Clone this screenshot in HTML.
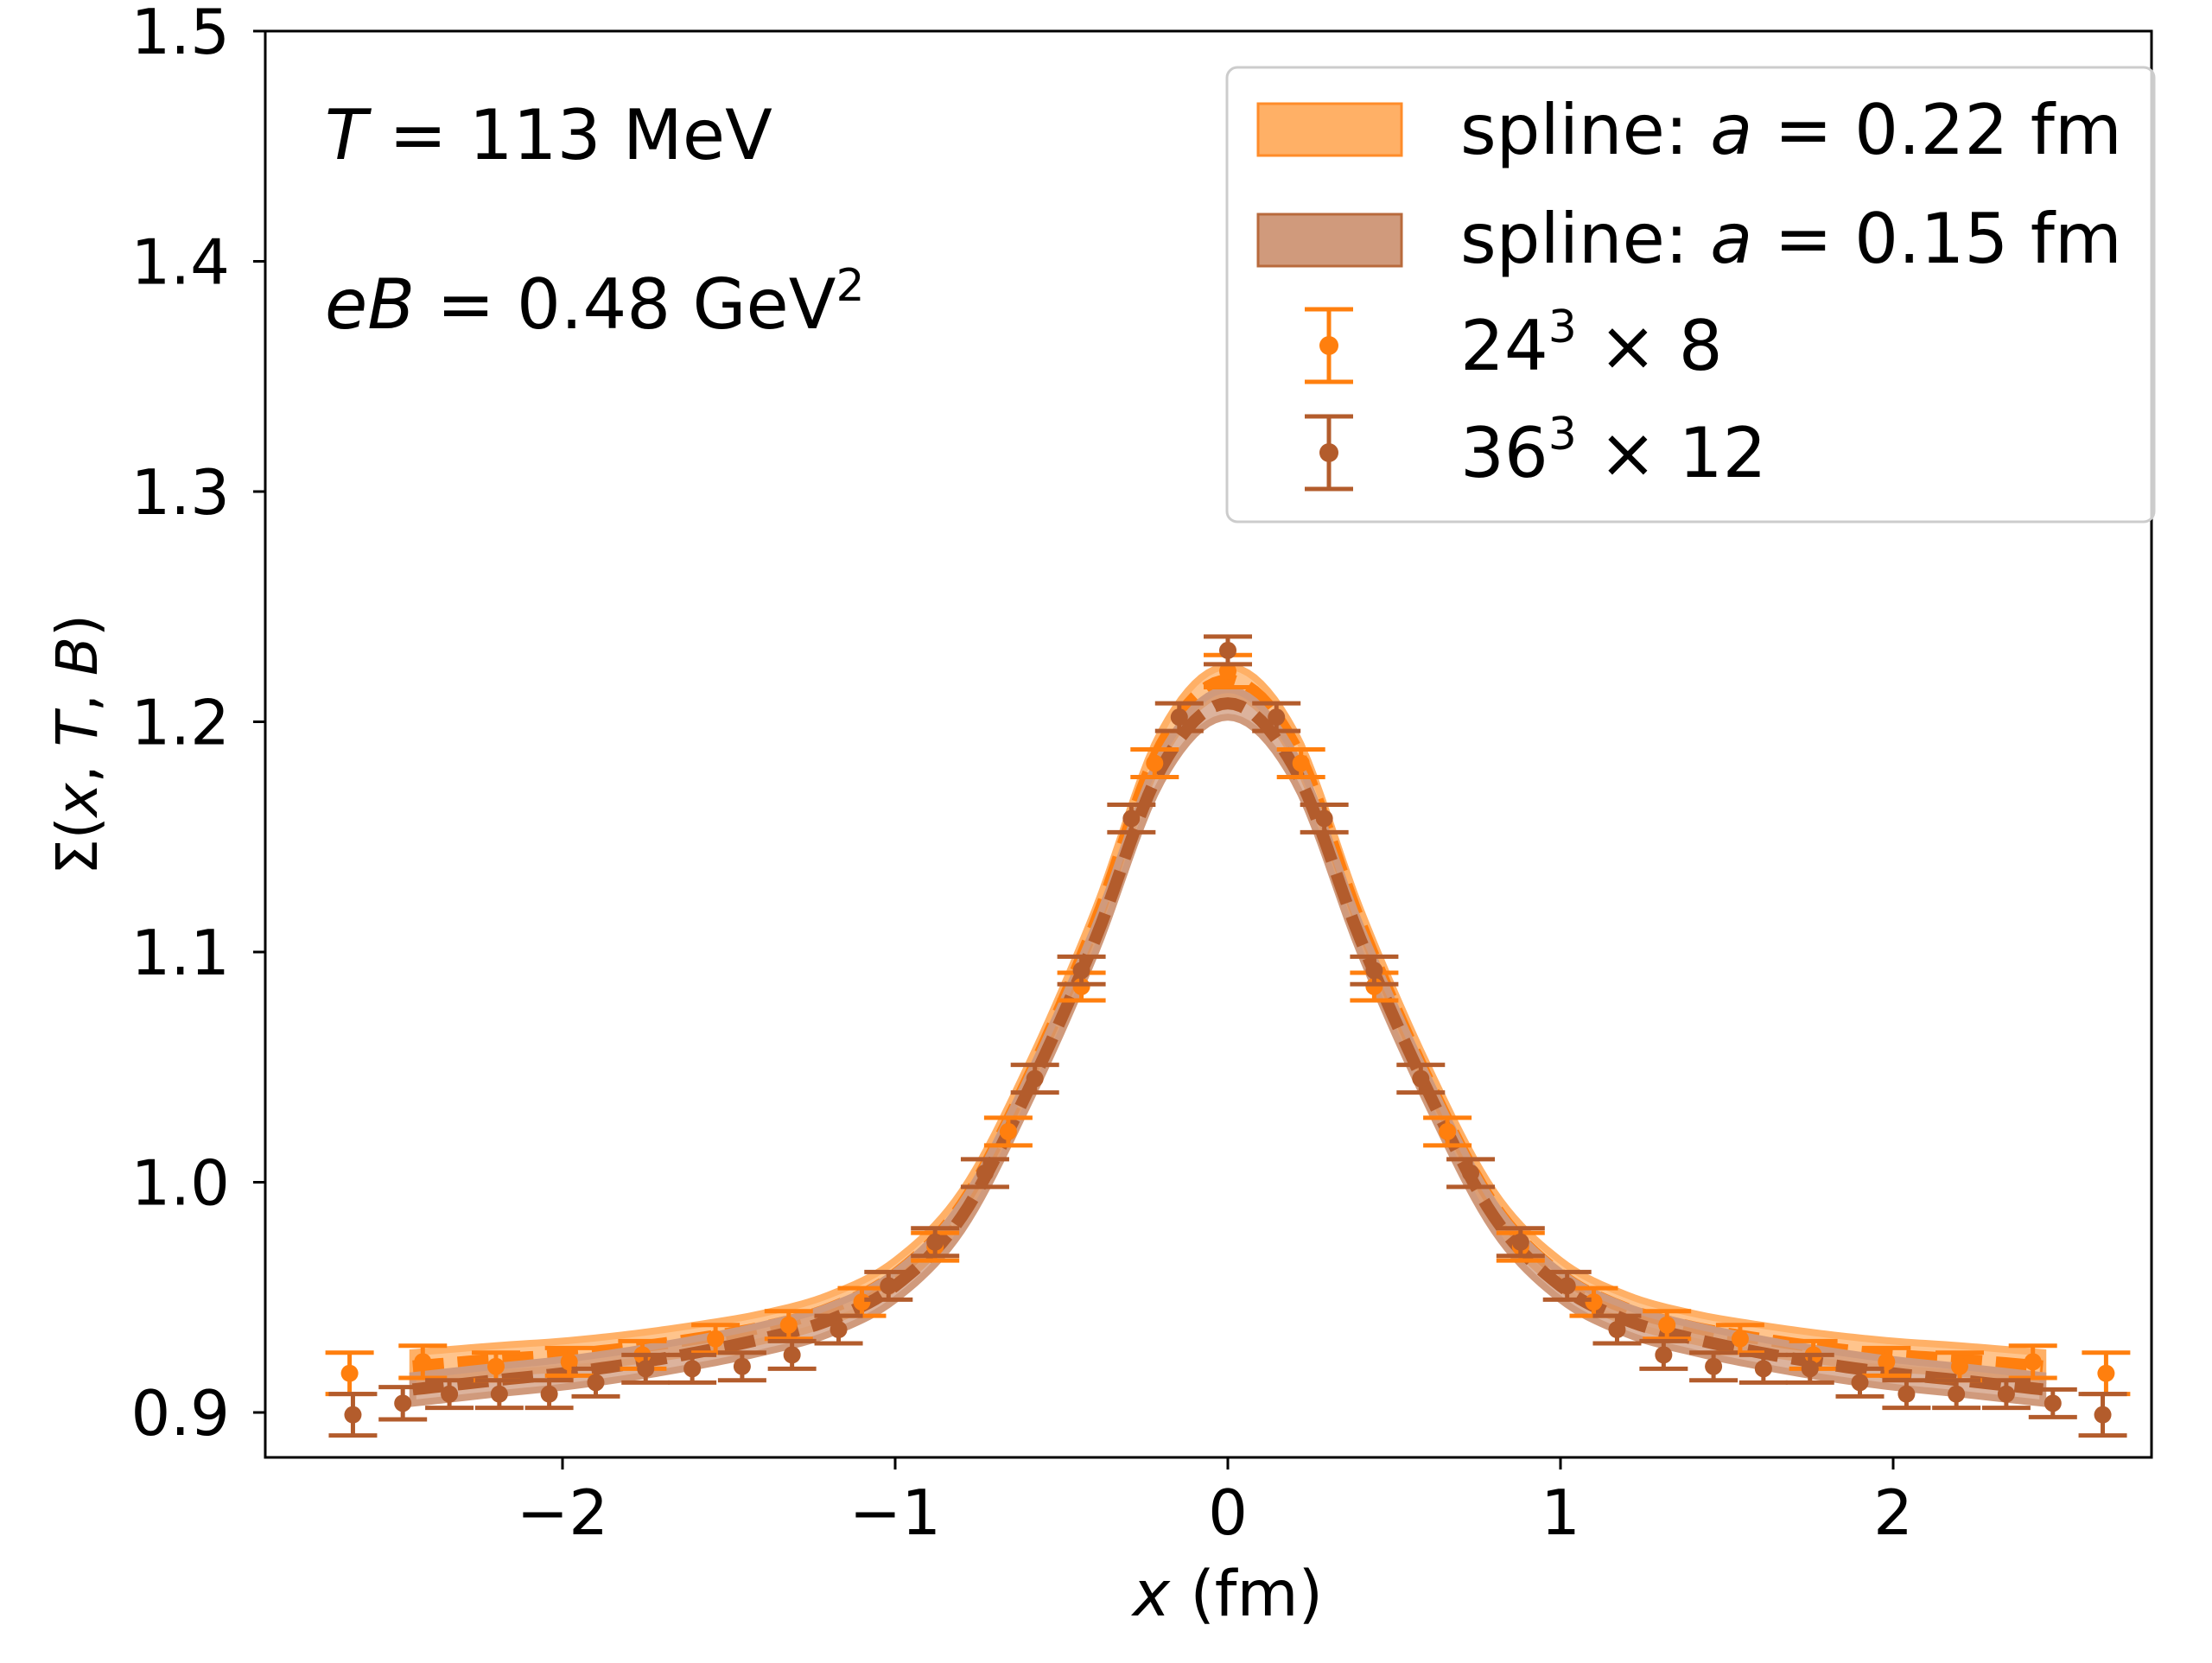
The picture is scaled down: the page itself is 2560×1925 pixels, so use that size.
<!DOCTYPE html>
<html><head><meta charset="utf-8">
<style>
html,body{margin:0;padding:0;background:#fff;}
svg text{font-family:"DejaVu Sans","Liberation Sans",sans-serif;}
</style></head>
<body>
<svg id="chart" width="2560" height="1920" viewBox="0 0 2560 1920" xmlns="http://www.w3.org/2000/svg">
<rect width="2560" height="1920" fill="#fff"/>
<g id="bands"></g>
<g id="points"></g>
<rect x="307" y="36" width="2183" height="1651" fill="none" stroke="#000" stroke-width="3"/>
<g id="xticks"></g>
<g id="yticks"></g>
<text x="1421" y="1870" font-size="73" text-anchor="middle"><tspan font-style="italic">x</tspan> (fm)</text>
<text transform="translate(112,862) rotate(-90)" font-size="66" text-anchor="middle">Σ(<tspan font-style="italic">x</tspan>, <tspan font-style="italic">T</tspan>, <tspan font-style="italic">B</tspan>)</text>
<text x="376" y="184" font-size="80"><tspan font-style="italic">T</tspan> = 113 MeV</text>
<text x="376" y="380" font-size="80"><tspan font-style="italic">eB</tspan> = 0.48 GeV<tspan font-size="52" dy="-32">2</tspan></text>
<g>
<rect x="1420" y="78" width="1073" height="526" rx="12" fill="#fff" fill-opacity="0.8" stroke="#ccc" stroke-width="3"/>
<rect x="1456" y="120" width="166" height="60" fill="#ffb066" stroke="#ff8c2a" stroke-width="3"/>
<text x="1690" y="178" font-size="80">spline: <tspan font-style="italic">a</tspan> = 0.22 fm</text>
<rect x="1456" y="248" width="166" height="60" fill="#d09a7c" stroke="#b86a3c" stroke-width="3"/>
<text x="1690" y="304" font-size="80">spline: <tspan font-style="italic">a</tspan> = 0.15 fm</text>
<g stroke="#ff7f0e" stroke-width="5"><line x1="1538" y1="358" x2="1538" y2="442"/><line x1="1510" y1="358" x2="1566" y2="358"/><line x1="1510" y1="442" x2="1566" y2="442"/></g>
<circle cx="1538" cy="400" r="11" fill="#ff7f0e"/>
<text x="1690" y="428" font-size="80">24<tspan font-size="52" dy="-32">3</tspan><tspan dy="32"> × 8</tspan></text>
<g stroke="#b35c2c" stroke-width="5"><line x1="1538" y1="482" x2="1538" y2="566"/><line x1="1510" y1="482" x2="1566" y2="482"/><line x1="1510" y1="566" x2="1566" y2="566"/></g>
<circle cx="1538" cy="524" r="11" fill="#b35c2c"/>
<text x="1690" y="552" font-size="80">36<tspan font-size="52" dy="-32">3</tspan><tspan dy="32"> × 12</tspan></text>
</g>
</svg>
<script>
const xTicks=[-2,-1,0,1,2];
const yTicks=[0.9,1.0,1.1,1.2,1.3,1.4,1.5];
const yTickLabels=["0.9","1.0","1.1","1.2","1.3","1.4","1.5"];
// orange 24^3x8, spacing 0.22
const orangeX=[-2.64,-2.42,-2.2,-1.98,-1.76,-1.54,-1.32,-1.1,-0.88,-0.66,-0.44,-0.22,0,0.22,0.44,0.66,0.88,1.1,1.32,1.54,1.76,1.98,2.2,2.42,2.64];
const orangeY=[0.917,0.922,0.920,0.922,0.925,0.932,0.938,0.948,0.972,1.022,1.085,1.182,1.222,1.182,1.085,1.022,0.972,0.948,0.938,0.932,0.925,0.922,0.920,0.922,0.917];
const orangeErr=[0.009,0.007,0.006,0.006,0.006,0.006,0.006,0.006,0.006,0.006,0.006,0.006,0.007,0.006,0.006,0.006,0.006,0.006,0.006,0.006,0.006,0.006,0.006,0.007,0.009];
// brown 36^3x12, spacing 0.146
const brownX=[-2.63,-2.48,-2.34,-2.19,-2.04,-1.9,-1.75,-1.61,-1.46,-1.31,-1.17,-1.02,-0.88,-0.73,-0.58,-0.44,-0.29,-0.146,0,0.146,0.29,0.44,0.58,0.73,0.88,1.02,1.17,1.31,1.46,1.61,1.75,1.9,2.04,2.19,2.34,2.48,2.63];
const brownY=[0.899,0.904,0.908,0.908,0.908,0.913,0.919,0.919,0.920,0.925,0.936,0.955,0.974,1.004,1.045,1.092,1.158,1.202,1.231,1.202,1.158,1.092,1.045,1.004,0.974,0.955,0.936,0.925,0.920,0.919,0.919,0.913,0.908,0.908,0.908,0.904,0.899];
const brownErr=[0.009,0.007,0.006,0.006,0.006,0.006,0.006,0.006,0.006,0.006,0.006,0.006,0.006,0.006,0.006,0.006,0.006,0.006,0.006,0.006,0.006,0.006,0.006,0.006,0.006,0.006,0.006,0.006,0.006,0.006,0.006,0.006,0.006,0.006,0.006,0.006,0.009];
// splines
const splineX=[-2.45,-2.2,-2.0,-1.8,-1.6,-1.4,-1.2,-1.0,-0.8,-0.6,-0.4,-0.2,0,0.2,0.4,0.6,0.8,1.0,1.2,1.4,1.6,1.8,2.0,2.2,2.45];
const splineOrange=[0.920,0.923,0.925,0.928,0.932,0.937,0.945,0.960,0.990,1.045,1.112,1.190,1.218,1.190,1.112,1.045,0.990,0.960,0.945,0.937,0.932,0.928,0.925,0.923,0.920];
const splineBrown=[0.910,0.914,0.917,0.921,0.926,0.932,0.940,0.955,0.985,1.040,1.105,1.180,1.208,1.180,1.105,1.040,0.985,0.955,0.940,0.932,0.926,0.921,0.917,0.914,0.910];
const splineHalfWidth=0.006;

const NS="http://www.w3.org/2000/svg";
const X=v=>1421+v*385;
const Y=v=>1635-(v-0.9)*2665;
function mk(tag,attrs,parent){const e=document.createElementNS(NS,tag);for(const k in attrs)e.setAttribute(k,attrs[k]);parent.appendChild(e);return e;}
// Catmull-Rom smoothing of the spline samples for drawing
function smooth(xs,ys){
 const out=[];
 for(let i=0;i<xs.length-1;i++){
  const i0=Math.max(i-1,0),i3=Math.min(i+2,xs.length-1);
  for(let s=0;s<10;s++){
   const t=s/10,t2=t*t,t3=t2*t;
   const f=(p0,p1,p2,p3)=>0.5*((2*p1)+(-p0+p2)*t+(2*p0-5*p1+4*p2-p3)*t2+(-p0+3*p1-3*p2+p3)*t3);
   out.push([f(xs[i0],xs[i],xs[i+1],xs[i3]),f(ys[i0],ys[i],ys[i+1],ys[i3])]);
  }
 }
 out.push([xs[xs.length-1],ys[ys.length-1]]);
 return out;
}
const xt=document.getElementById('xticks'),yt=document.getElementById('yticks');
xTicks.forEach(t=>{
 const l=mk('line',{x1:X(t),x2:X(t),y1:1687,y2:1701,stroke:'#000','stroke-width':3},xt);
 
 
 const s=mk('text',{x:X(t),y:1776,'font-size':72,'text-anchor':'middle'},xt);
 s.textContent=t<0?'\u2212'+(-t):String(t);
 
 
});
yTicks.forEach((t,i)=>{
 const l=mk('line',{x1:293,x2:307,y1:Y(t),y2:Y(t),stroke:'#000','stroke-width':3},yt);
 
 
 const s=mk('text',{x:266,y:Y(t)+26,'font-size':72,'text-anchor':'end'},yt);
 s.textContent=yTickLabels[i];
 
 
});
const bands=document.getElementById('bands');
function band(vals,fill,stroke,name){
 const up=smooth(splineX,vals.map(v=>v+splineHalfWidth)).map(p=>X(p[0])+','+Y(p[1]));
 const dn=smooth(splineX,vals.map(v=>v-splineHalfWidth)).map(p=>X(p[0])+','+Y(p[1])).reverse();
 const p=mk('polygon',{points:up.concat(dn).join(' '),fill:fill,'fill-opacity':0.75,stroke:fill,'stroke-width':8},bands);
 
 
 const c=mk('polyline',{points:smooth(splineX,vals).map(p=>X(p[0])+','+Y(p[1])).join(' '),fill:'none',stroke:stroke,'stroke-width':14,'stroke-dasharray':'36 16'},bands);
 
 
}
band(splineOrange,'#ffb066','#ff7f0e','spline-a022');
band(splineBrown,'#d09a7c','#b35c2c','spline-a015');
const pts=document.getElementById('points');
function series(xs,ys,es,col,name){
 xs.forEach((x,i)=>{
  const g=mk('g',{stroke:col,'stroke-width':5},pts);
  
  
  const cx=X(x),y1=Y(ys[i]-es[i]),y2=Y(ys[i]+es[i]);
  mk('line',{x1:cx,x2:cx,y1:y1,y2:y2},g);
  mk('line',{x1:cx-28,x2:cx+28,y1:y1,y2:y1},g);
  mk('line',{x1:cx-28,x2:cx+28,y1:y2,y2:y2},g);
  mk('circle',{cx:cx,cy:Y(ys[i]),r:10,fill:col,stroke:'none'},g);
 });
}
series(orangeX,orangeY,orangeErr,'#ff7f0e','lattice-24x8');
series(brownX,brownY,brownErr,'#b35c2c','lattice-36x12');
</script>
</body></html>
